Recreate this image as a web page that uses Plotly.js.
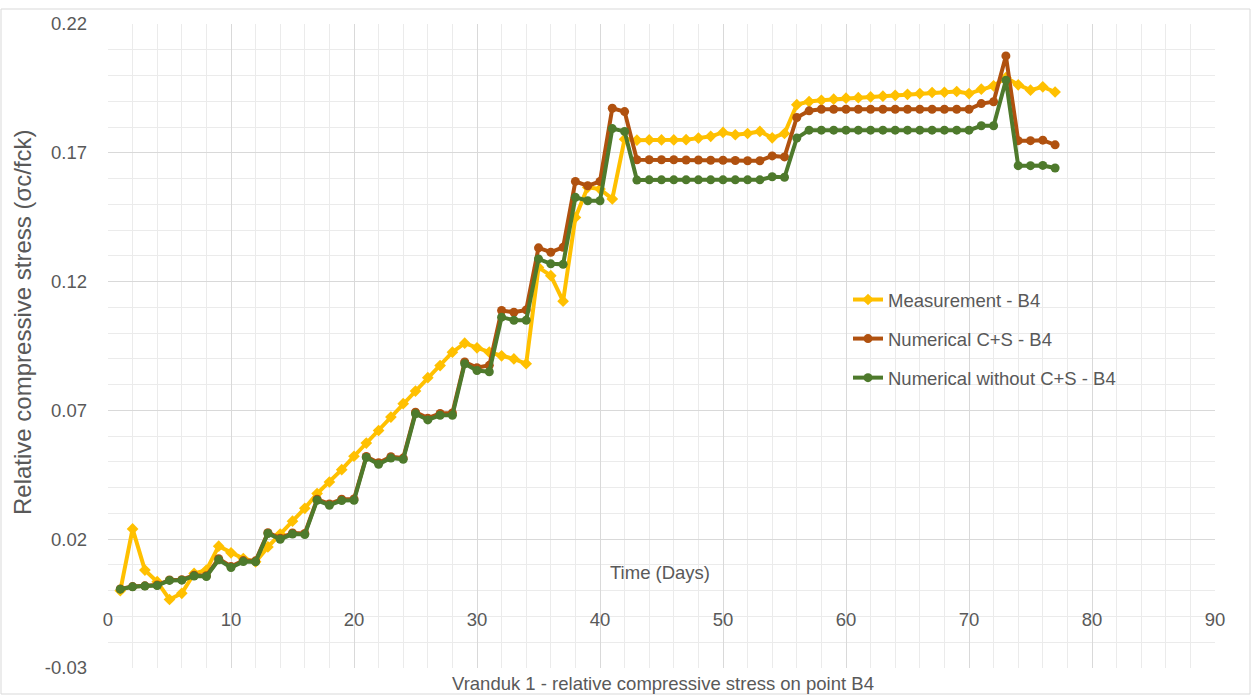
<!DOCTYPE html>
<html>
<head>
<meta charset="utf-8">
<script src="https://cdn.plot.ly/plotly-3.0.1.min.js"></script>
<style>
  html, body { margin: 0; padding: 0; background: #ffffff; }
  #chart { width: 1255px; height: 695px; }
</style>
</head>
<body>
<div id="chart"></div>
<script>
// ---- data ----
const days = [1,2,3,4,5,6,7,8,9,10,11,12,13,14,15,16,17,18,19,20,21,22,23,24,25,26,27,28,29,30,31,32,33,34,35,36,37,38,39,40,41,42,43,44,45,46,47,48,49,50,51,52,53,54,55,56,57,58,59,60,61,62,63,64,65,66,67,68,69,70,71,72,73,74,75,76,77];

const measurementB4 = [0.0000,0.0240,0.0080,0.0035,-0.0034,-0.0010,0.0067,0.0080,0.0173,0.0147,
  0.0125,0.0112,0.0170,0.0220,0.0270,0.0320,0.0377,0.0422,0.0470,0.0522,
  0.0573,0.0622,0.0674,0.0726,0.0775,0.0827,0.0874,0.0926,0.0961,0.0943,
  0.0926,0.0912,0.0900,0.0881,0.1255,0.1223,0.1124,0.1449,0.1566,0.1559,
  0.1521,0.1753,0.1749,0.1750,0.1750,0.1750,0.1751,0.1757,0.1764,0.1779,
  0.1770,0.1775,0.1783,0.1758,0.1775,0.1887,0.1899,0.1904,0.1908,0.1912,
  0.1914,0.1917,0.1920,0.1923,0.1927,0.1930,0.1934,0.1935,0.1938,0.1930,
  0.1947,0.1960,0.1992,0.1964,0.1943,0.1956,0.1936];

const numericalCS = [0.0007,0.0016,0.0019,0.0022,0.0042,0.0043,0.0060,0.0058,0.0124,0.0094,
  0.0117,0.0116,0.0225,0.0204,0.0224,0.0222,0.0355,0.0337,0.0355,0.0356,
  0.0521,0.0497,0.0520,0.0515,0.0693,0.0670,0.0688,0.0690,0.0888,0.0866,
  0.0875,0.1088,0.1081,0.1090,0.1331,0.1314,0.1333,0.1589,0.1572,0.1589,
  0.1873,0.1860,0.1673,0.1673,0.1673,0.1673,0.1672,0.1672,0.1671,0.1671,
  0.1670,0.1669,0.1669,0.1688,0.1684,0.1837,0.1863,0.1869,0.1869,0.1869,
  0.1869,0.1869,0.1869,0.1869,0.1869,0.1869,0.1869,0.1869,0.1869,0.1869,
  0.1891,0.1898,0.2076,0.1747,0.1747,0.1749,0.1731];

const numericalNoCS = [0.0006,0.0015,0.0018,0.0020,0.0040,0.0041,0.0057,0.0055,0.0120,0.0090,
  0.0113,0.0112,0.0222,0.0200,0.0220,0.0218,0.0351,0.0332,0.0350,0.0351,
  0.0517,0.0491,0.0515,0.0510,0.0687,0.0663,0.0681,0.0681,0.0881,0.0855,
  0.0850,0.1062,0.1050,0.1050,0.1288,0.1269,0.1267,0.1527,0.1514,0.1514,
  0.1794,0.1783,0.1594,0.1595,0.1595,0.1595,0.1595,0.1595,0.1595,0.1595,
  0.1595,0.1595,0.1595,0.1607,0.1605,0.1757,0.1788,0.1788,0.1788,0.1788,
  0.1788,0.1788,0.1788,0.1788,0.1788,0.1788,0.1788,0.1788,0.1788,0.1788,
  0.1805,0.1805,0.1982,0.1650,0.1650,0.1651,0.1641];

const seriesNames = ["Measurement - B4", "Numerical C+S - B4", "Numerical without C+S - B4"];
const xTickVals = [0,10,20,30,40,50,60,70,80,90];
const yTickVals = [-0.03,0.02,0.07,0.12,0.17,0.22];

// ---- styling ----
const FONT = '"Liberation Sans", Arial, sans-serif';
const FS = 18.5;
const TXT = '#595959';
const colors = ['#FFC000', '#B0510F', '#4E7A2C'];

const traces = [
  {x: days, y: measurementB4, name: seriesNames[0], type: 'scatter', mode: 'lines+markers',
   legendgroup: 'a',
   line: {color: colors[0], width: 4}, marker: {symbol: 'diamond', size: 9, color: colors[0]}},
  {x: days, y: numericalCS, name: seriesNames[1], type: 'scatter', mode: 'lines+markers',
   legendgroup: 'b',
   line: {color: colors[1], width: 4}, marker: {symbol: 'circle', size: 9, color: colors[1]}},
  {x: days, y: numericalNoCS, name: seriesNames[2], type: 'scatter', mode: 'lines+markers',
   legendgroup: 'c',
   line: {color: colors[2], width: 4}, marker: {symbol: 'circle', size: 9, color: colors[2]}}
];

// plot area pixels: left 108, right 1215, top 24, bottom 668
const L = 108, R = 1255 - 1215, T = 24, B = 695 - 668;
const W = 1215 - 108, H = 668 - 24;
const px2x = p => (p - L) / W;
const py2y = p => (668 - p) / H;

const layout = {
  width: 1255, height: 695,
  margin: {l: L, r: R, t: T, b: B, pad: 0},
  paper_bgcolor: '#ffffff', plot_bgcolor: '#ffffff',
  font: {family: FONT, size: FS, color: TXT},
  showlegend: true,
  legend: {x: px2x(848), y: py2y(281), xanchor: 'left', yanchor: 'top',
           bgcolor: 'rgba(0,0,0,0)', font: {family: FONT, size: FS, color: TXT},
           traceorder: 'grouped', tracegroupgap: 12},
  xaxis: {
    range: [0, 90], tickmode: 'array', tickvals: xTickVals, ticktext: xTickVals.map(String),
    showgrid: true, gridcolor: '#D9D9D9', gridwidth: 1,
    minor: {dtick: 2, tick0: 0, showgrid: true, gridcolor: '#EBEBEB', gridwidth: 1},
    zeroline: false, showline: false, ticks: '',
    anchor: 'free', position: py2y(590.6),
    ticklabelstandoff: 16,
    tickfont: {family: FONT, size: FS, color: TXT}
  },
  yaxis: {
    range: [-0.03, 0.22], tickmode: 'array', tickvals: yTickVals,
    ticktext: yTickVals.map(v => v.toFixed(2)),
    showgrid: true, gridcolor: '#D9D9D9', gridwidth: 1,
    minor: {dtick: 0.01, tick0: -0.03, showgrid: true, gridcolor: '#EBEBEB', gridwidth: 1},
    zeroline: false, showline: false, ticks: '',
    ticklabelstandoff: 20,
    tickfont: {family: FONT, size: FS, color: TXT}
  },
  annotations: [
    {text: 'Relative compressive stress (σc/fck)', xref: 'paper', yref: 'paper',
     x: px2x(22), y: py2y(322), xanchor: 'center', yanchor: 'middle', textangle: -90,
     showarrow: false, font: {family: FONT, size: 24, color: TXT}},
    {text: 'Time (Days)', xref: 'paper', yref: 'paper', x: px2x(660), y: py2y(572),
     xanchor: 'center', yanchor: 'middle', showarrow: false,
     font: {family: FONT, size: FS, color: TXT}},
    {text: 'Vranduk 1 - relative compressive stress on point B4', xref: 'paper', yref: 'paper',
     x: px2x(663), y: py2y(683), xanchor: 'center', yanchor: 'middle', showarrow: false,
     font: {family: FONT, size: FS, color: TXT}}
  ],
  shapes: [
    {type: 'rect', xref: 'paper', yref: 'paper', x0: px2x(1), x1: px2x(1250), y0: py2y(694), y1: py2y(9),
     line: {color: '#D9D9D9', width: 1}, fillcolor: 'rgba(0,0,0,0)', layer: 'below'}
  ]
};

Plotly.newPlot('chart', traces, layout, {displayModeBar: false, staticPlot: true});
</script>
</body>
</html>
